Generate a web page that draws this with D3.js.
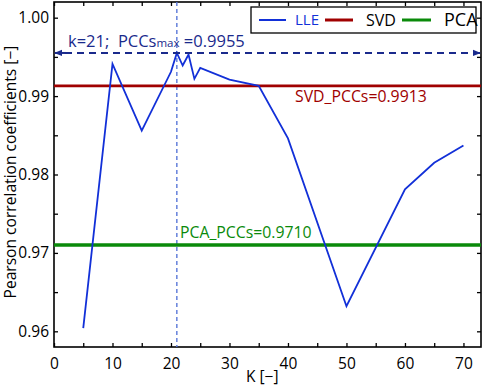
<!DOCTYPE html>
<html><head><meta charset="utf-8">
<script src="https://cdn.jsdelivr.net/npm/d3@7"></script>
<style>body{margin:0;background:#fff}svg{display:block;font-family:"Open Sans","Noto Sans",sans-serif}</style>
</head><body><svg id="c" width="484" height="387"></svg>
<script>
const kValues = [5, 10, 15, 20, 21, 22, 23, 24, 25, 30, 35, 40, 50, 60, 65, 70];
const lleValues = [0.9604, 0.9941, 0.9856, 0.9931, 0.9955, 0.9939, 0.9953, 0.9922, 0.9936, 0.9921, 0.9913, 0.9846, 0.9632, 0.9781, 0.9815, 0.9837];
const svdValue = 0.9913;
const pcaValue = 0.9710;
const bestK = 21;
const bestValue = 0.9955;
const xTicks = [0, 10, 20, 30, 40, 50, 60, 70];
const yTicks = [0.96, 0.97, 0.98, 0.99, 1.00];
const legendNames = ["LLE", "SVD", "PCA"];

(function () {
const svg = d3.select("#c");
const L = 54, R = 481, T = 2, B = 347;
const x = d3.scaleLinear().domain([0, 73]).range([L, R]);
const y = d3.scaleLinear().domain([0.958, 1.002]).range([B, T]);
const colLLE = "#1230d8", colSVD = "#a00000", colPCA = "#0a8a0a", colNavy = "#1a2a8c";

const defs = svg.append("defs");
defs.append("marker").attr("id", "arr").attr("viewBox", "0 0 10 10").attr("refX", 9).attr("refY", 5)
  .attr("markerWidth", 4).attr("markerHeight", 4).attr("orient", "auto-start-reverse")
  .append("path").attr("d", "M0,1 L10,5 L0,9 Z").attr("fill", colNavy);

const minorX = d3.range(0, 73, 5);
const minorY = d3.range(0.96, 1.0021, 0.005).map(v => +v.toFixed(3));
function tickG(sel, axis) { return sel.call(axis).call(g => g.select(".domain").remove()); }
const gBottom = svg.append("g").attr("transform", `translate(0,${B})`);
tickG(gBottom, d3.axisBottom(x).tickValues(minorX).tickSize(-4).tickFormat(""));
const gBottomLab = svg.append("g").attr("transform", `translate(0,${B})`);
tickG(gBottomLab, d3.axisBottom(x).tickValues(xTicks).tickSize(0).tickPadding(11).tickFormat(d3.format("d")));
const gTop = svg.append("g").attr("transform", `translate(0,${T})`);
tickG(gTop, d3.axisTop(x).tickValues(minorX).tickSize(-4).tickFormat(""));
const gLeft = svg.append("g").attr("transform", `translate(${L},0)`);
tickG(gLeft, d3.axisLeft(y).tickValues(minorY).tickSize(-4).tickFormat(""));
const gLeftLab = svg.append("g").attr("transform", `translate(${L},0)`);
tickG(gLeftLab, d3.axisLeft(y).tickValues(yTicks).tickSize(0).tickPadding(5).tickFormat(d3.format(".2f")));
const gRight = svg.append("g").attr("transform", `translate(${R},0)`);
tickG(gRight, d3.axisRight(y).tickValues(minorY).tickSize(-4).tickFormat(""));
svg.selectAll(".tick line").attr("stroke", "#000").attr("stroke-width", 1.3);
svg.selectAll(".tick text").attr("font-size", 15.5).attr("fill", "#000").attr("font-family", "Open Sans, Noto Sans, sans-serif");

svg.append("rect").attr("x", L).attr("y", T).attr("width", R - L).attr("height", B - T)
  .attr("fill", "none").attr("stroke", "#000").attr("stroke-width", 1.6);

svg.append("line").attr("x1", x(bestK)).attr("x2", x(bestK)).attr("y1", T).attr("y2", B)
  .attr("stroke", "#5a78d8").attr("stroke-width", 1.4).attr("stroke-dasharray", "4,3");

svg.append("line").attr("x1", L).attr("x2", R).attr("y1", y(svdValue)).attr("y2", y(svdValue))
  .attr("stroke", colSVD).attr("stroke-width", 2.6);
svg.append("line").attr("x1", L).attr("x2", R).attr("y1", y(pcaValue)).attr("y2", y(pcaValue))
  .attr("stroke", colPCA).attr("stroke-width", 3.4);

const data = kValues.map((k, i) => [k, lleValues[i]]);
svg.append("path").datum(data).attr("fill", "none").attr("stroke", colLLE).attr("stroke-width", 1.8)
  .attr("stroke-linejoin", "miter").attr("d", d3.line().x(d => x(d[0])).y(d => y(d[1])));

svg.append("line").attr("x1", L + 11).attr("x2", R - 1).attr("y1", y(bestValue)).attr("y2", y(bestValue))
  .attr("stroke", colNavy).attr("stroke-width", 2).attr("stroke-dasharray", "7,5")
  .attr("marker-end", "url(#arr)");
svg.append("line").attr("x1", L + 12).attr("x2", L + 1).attr("y1", y(bestValue)).attr("y2", y(bestValue))
  .attr("stroke", colNavy).attr("stroke-width", 2).attr("marker-end", "url(#arr)");

const ann = svg.append("text").attr("x", 68).attr("y", 47).attr("fill", colNavy).attr("font-size", 16.5);
ann.append("tspan").text(`k=${bestK};\u00a0\u00a0PCCs`);
ann.append("tspan").attr("font-size", 11.5).text("max");
ann.append("tspan").text(`\u00a0=${bestValue.toFixed(4)}`);

svg.append("text").attr("x", 295).attr("y", 102).attr("fill", colSVD).attr("font-size", 15.8)
  .text(`SVD_PCCs=${svdValue.toFixed(4)}`);
svg.append("text").attr("x", 180).attr("y", 238).attr("fill", colPCA).attr("font-size", 15.8)
  .text(`PCA_PCCs=${pcaValue.toFixed(4)}`);

svg.append("rect").attr("x", 251).attr("y", 7).attr("width", 225).attr("height", 26)
  .attr("fill", "#fff").attr("stroke", "#000").attr("stroke-width", 1.3);
const legCols = [colLLE, colSVD, colPCA];
const legLine = [[259, 286], [325, 353], [402, 431]];
const legText = [295, 366, 444];
const legTextCol = [colLLE, "#000", "#000"];
const legSize = [15, 16, 18];
legendNames.forEach((n, i) => {
  svg.append("line").attr("x1", legLine[i][0]).attr("x2", legLine[i][1]).attr("y1", 20).attr("y2", 20)
    .attr("stroke", legCols[i]).attr("stroke-width", i === 0 ? 2 : 3);
  svg.append("text").attr("x", legText[i]).attr("y", 20).attr("dy", "0.35em")
    .attr("font-size", legSize[i]).attr("fill", legTextCol[i]).text(n);
});

svg.append("text").attr("x", 246).attr("y", 382).attr("font-size", 15.5).attr("fill", "#000").text("K [\u2212]");
svg.append("text").attr("transform", `translate(16,172) rotate(-90)`).attr("text-anchor", "middle")
  .attr("font-size", 15.6).attr("fill", "#000").text("Pearson correlation coefficients [\u2212]");
})();
</script></body></html>
